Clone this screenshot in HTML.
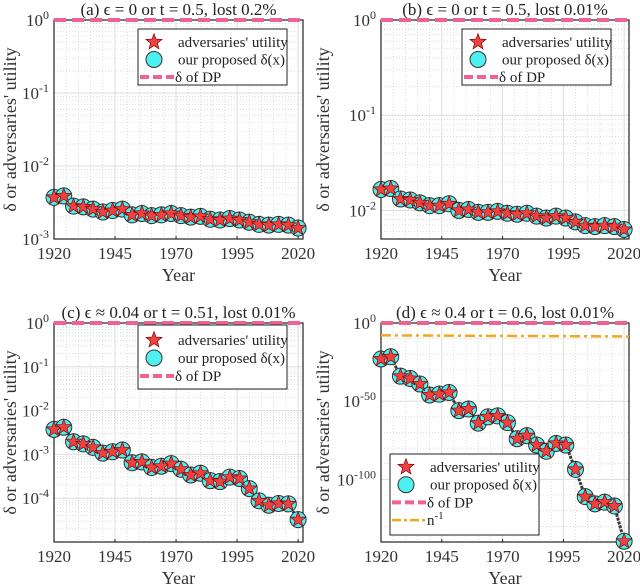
<!DOCTYPE html>
<html><head><meta charset="utf-8">
<style>
html,body{margin:0;padding:0;background:#fff;}
svg{display:block;font-family:"Liberation Serif",serif;}
</style></head>
<body>
<svg id="fig" width="640" height="585" viewBox="0 0 640 585" xmlns="http://www.w3.org/2000/svg"></svg>
<script>
const years = [1920,1924,1928,1932,1936,1940,1944,1948,1952,1956,1960,1964,1968,1972,1976,1980,1984,1988,1992,1996,2000,2004,2008,2012,2016,2020];
// log10 values per panel
const logA = [-2.43,-2.41,-2.55,-2.56,-2.59,-2.63,-2.61,-2.59,-2.67,-2.65,-2.68,-2.67,-2.65,-2.68,-2.70,-2.69,-2.73,-2.74,-2.72,-2.74,-2.77,-2.80,-2.81,-2.80,-2.81,-2.85];
const logB = [-1.78,-1.77,-1.88,-1.89,-1.92,-1.95,-1.95,-1.93,-2.00,-1.99,-2.02,-2.02,-2.01,-2.03,-2.04,-2.03,-2.06,-2.08,-2.06,-2.08,-2.12,-2.16,-2.17,-2.16,-2.17,-2.20];
const logC = [-2.43,-2.38,-2.71,-2.76,-2.84,-2.97,-2.94,-2.90,-3.19,-3.17,-3.30,-3.27,-3.21,-3.34,-3.47,-3.43,-3.60,-3.62,-3.52,-3.55,-3.78,-4.06,-4.16,-4.12,-4.13,-4.49];
const logD = [-23,-21.6,-34,-35.5,-39,-46,-45.5,-44.4,-56,-55,-64,-60,-59.4,-63.7,-74,-72,-78,-82,-77,-78,-93.6,-111,-115.6,-114.5,-117,-139.5];
const nInvD = [-7.9,-8.6];
const xTicks = [1920,1945,1970,1995,2020];
const titles = ["(a) \u03F5 = 0 or t = 0.5, lost 0.2%","(b) \u03F5 = 0 or t = 0.5, lost 0.01%","(c) \u03F5 \u2248 0.04 or t = 0.51, lost 0.01%","(d) \u03F5 \u2248 0.4 or t = 0.6, lost 0.01%"];

const NS="http://www.w3.org/2000/svg";
const svg=document.getElementById('fig');
function mk(tag,attrs,parent){const e=document.createElementNS(NS,tag);for(const k in attrs)e.setAttribute(k,attrs[k]);(parent||svg).appendChild(e);return e;}
function starPts(cx,cy,R){const r=R*0.42;let p=[];for(let i=0;i<10;i++){const a=-Math.PI/2+i*Math.PI/5;const rr=i%2?r:R;p.push((cx+rr*Math.cos(a)).toFixed(1)+","+(cy+rr*Math.sin(a)).toFixed(1));}return p.join(" ");}

const panels=[
 {id:'a',x0:54,x1:303,y0:20,y1:239,lo:-3,hi:0,data:logA,ticks:[0,-1,-2,-3],minor:true,leg:[138,29,149,56],row0:13,rowH:17.5,yt:16},
 {id:'b',x0:381,x1:629,y0:20,y1:239,lo:-2.3,hi:0,data:logB,ticks:[0,-1,-2],minor:true,leg:[462,29,149,56],row0:13,rowH:17.5,yt:329},
 {id:'c',x0:54,x1:303,y0:323,y1:542,lo:-5,hi:0,data:logC,ticks:[0,-1,-2,-3,-4],minor:true,leg:[138,325,149,64],row0:15,rowH:18,yt:16},
 {id:'d',x0:381,x1:629,y0:323,y1:542,lo:-140,hi:0,data:logD,ticks:[0,-50,-100],minor:false,leg:[390,454,149,81],row0:13,rowH:17.7,yt:329}
];

panels.forEach((P,pi)=>{
 const g=mk('g',{});
 
 
 const X=v=>P.x0+(v-1920)/(2022-1920)*(P.x1-P.x0);
 const Y=v=>P.y0+(P.hi-v)/(P.hi-P.lo)*(P.y1-P.y0);
 for(let yr=1925;yr<2022;yr+=5){ if(xTicks.includes(yr))continue;
  mk('line',{x1:X(yr),x2:X(yr),y1:P.y0,y2:P.y1,stroke:'#ccc','stroke-width':0.7,'stroke-dasharray':'1,2'},g);}
 if(P.minor){
  for(let d=Math.floor(P.lo);d<P.hi;d++){for(let m=2;m<10;m++){const v=d+Math.log10(m);if(v<P.lo||v>P.hi)continue;
   mk('line',{x1:P.x0,x2:P.x1,y1:Y(v),y2:Y(v),stroke:'#ccc','stroke-width':0.7,'stroke-dasharray':'1,2'},g);}}
 } else {
  for(let v=-10;v>P.lo;v-=10){ if(v%50===0)continue;
   mk('line',{x1:P.x0,x2:P.x1,y1:Y(v),y2:Y(v),stroke:'#ccc','stroke-width':0.7,'stroke-dasharray':'1,2'},g);}
 }
 xTicks.forEach(t=>mk('line',{x1:X(t),x2:X(t),y1:P.y0,y2:P.y1,stroke:'#ddd','stroke-width':1},g));
 P.ticks.forEach(t=>mk('line',{x1:P.x0,x2:P.x1,y1:Y(t),y2:Y(t),stroke:'#ddd','stroke-width':1},g));
 const fr=mk('rect',{x:P.x0,y:P.y0,width:P.x1-P.x0,height:P.y1-P.y0,fill:'none',stroke:'#222','stroke-width':1.2},g);
 
 
 xTicks.forEach(t=>{
  mk('line',{x1:X(t),x2:X(t),y1:P.y1,y2:P.y1-3,stroke:'#222'},g);
  const tx=mk('text',{x:X(t),y:P.y1+20,'font-size':17,'text-anchor':'middle',fill:'#333'},g);tx.textContent=t;
  
  
 });
 P.ticks.forEach(t=>{
  const tx=mk('text',{x:P.x0-5,y:Y(t)+6,'font-size':17,'text-anchor':'end',fill:'#333'},g);
  
  
  const b=mk('tspan',{},tx);b.textContent='10';
  const s=mk('tspan',{dy:-7,'font-size':12},tx);s.textContent=String(t);
 });
 const xl=mk('text',{x:(P.x0+P.x1)/2,y:P.y1+42,'font-size':18,'text-anchor':'middle',fill:'#333'},g);xl.textContent='Year';
 
 
 const yx=P.yt;const yc=(P.y0+P.y1)/2;
 const yl=mk('text',{x:yx,y:yc,'font-size':18,'text-anchor':'middle',fill:'#333',transform:`rotate(-90 ${yx} ${yc})`},g);
 yl.textContent="\u03B4 or adversaries' utility";
 
 
 const ti=mk('text',{x:(P.x0+P.x1)/2,y:P.y0-5,'font-size':17,'text-anchor':'middle',fill:'#222'},g);ti.textContent=titles[pi];
 
 
 const dp=mk('line',{x1:P.x0,x2:P.x1,y1:Y(0),y2:Y(0),stroke:'#f06292','stroke-width':4,'stroke-dasharray':'12,6'},g);
 
 
 if(P.id==='d'){
  const nl=mk('line',{x1:P.x0,x2:P.x1,y1:Y(nInvD[0]),y2:Y(nInvD[1]),stroke:'#f0a81c','stroke-width':2.5,'stroke-dasharray':'10,4,3,4'},g);
  
  
 }
 const pl=mk('polyline',{points:P.data.map((v,i)=>X(years[i])+','+Y(v)).join(' '),fill:'none',stroke:'#3a3a3a','stroke-width':3,'stroke-dasharray':'3,1'},g);
 
 
 P.data.forEach((v,i)=>{
  const c=mk('circle',{cx:X(years[i]),cy:Y(v),r:8,fill:'#4ff0f0',stroke:'#333','stroke-width':1},g);
  
  
 });
 P.data.forEach((v,i)=>{
  const s=mk('polygon',{points:starPts(X(years[i]),Y(v),8),fill:'#f04040',stroke:'#600','stroke-width':0.6},g);
  
  
 });
 const [lx,ly,lw,lh]=P.leg;
 const lg=mk('g',{},g);
 
 
 mk('rect',{x:lx,y:ly,width:lw,height:lh,fill:'#fff',stroke:'#222','stroke-width':1},lg);
 const rows=[["adversaries' utility",'star'],["our proposed \u03B4(x)",'circ'],["\u03B4 of DP",'dp']];
 if(P.id==='d')rows.push(["n",'n']);
 rows.forEach((r,k)=>{
  const cy=ly+P.row0+k*P.rowH, mx=lx+16;
  if(r[1]==='star')mk('polygon',{points:starPts(mx,cy,8.5),fill:'#f04040',stroke:'#600','stroke-width':0.6},lg);
  if(r[1]==='circ')mk('circle',{cx:mx,cy:cy,r:8,fill:'#4ff0f0',stroke:'#333'},lg);
  if(r[1]==='dp')mk('line',{x1:lx+2,x2:lx+36,y1:cy,y2:cy,stroke:'#f06292','stroke-width':4,'stroke-dasharray':'9,4'},lg);
  if(r[1]==='n')mk('line',{x1:lx+2,x2:lx+36,y1:cy,y2:cy,stroke:'#f0a81c','stroke-width':2.5,'stroke-dasharray':'9,3,3,3'},lg);
  const t=mk('text',{x:r[1]==='dp'||r[1]==='n'?lx+37:lx+40,y:cy+5,'font-size':15,fill:'#222'},lg);
  
  
  t.textContent=r[0];
  if(r[1]==='n'){const s=mk('tspan',{dy:-6,'font-size':11},t);s.textContent='-1';}
 });
});
</script>
</body></html>
